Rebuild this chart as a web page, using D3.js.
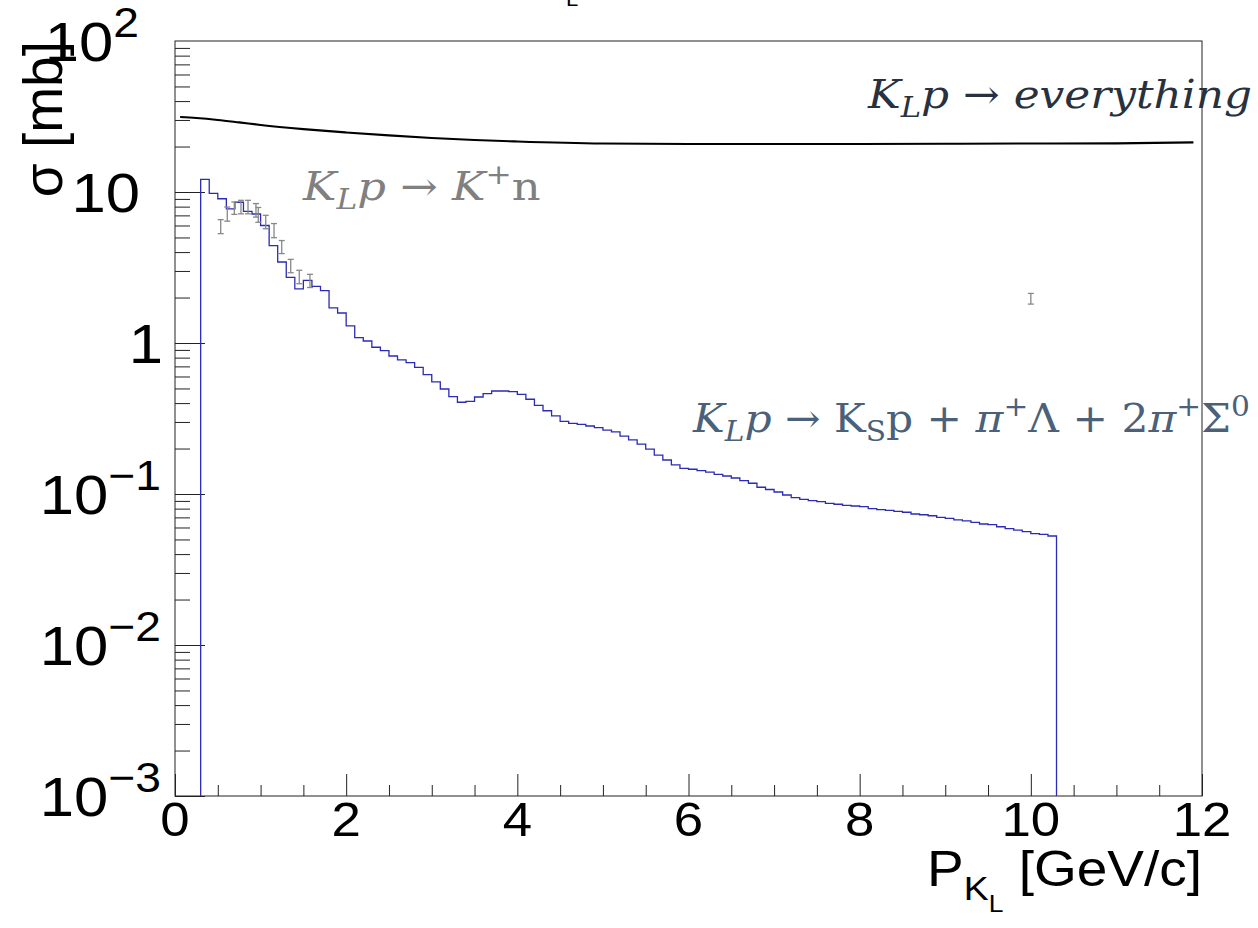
<!DOCTYPE html>
<html><head><meta charset="utf-8">
<script src="https://cdn.jsdelivr.net/npm/d3@7"></script>
<style>body{margin:0;background:#fff} svg{display:block}</style>
</head><body>
<svg id="c" width="1258" height="928"></svg>
<script>
// ---------- data ----------
const binStart = 0.3;
const binWidth = 0.1;
// K_L p -> K_S p + pi+ Lambda + 2pi+ Sigma0  (mb), 100 bins from 0.3 to 10.3 GeV/c
const ksValues = [
  12.14, 9.80, 9.02, 7.74, 8.55, 7.45, 7.15, 6.00, 4.41, 3.44,
  2.72, 2.28, 2.60, 2.37, 2.22, 1.71, 1.58, 1.30, 1.084, 1.031,
  0.937, 0.889, 0.820, 0.772, 0.741, 0.690, 0.617, 0.552, 0.496, 0.441,
  0.405, 0.411, 0.439, 0.462, 0.481, 0.481, 0.476, 0.457, 0.424, 0.386,
  0.356, 0.329, 0.303, 0.294, 0.289, 0.282, 0.275, 0.265, 0.258, 0.242,
  0.228, 0.214, 0.198, 0.181, 0.168, 0.156, 0.148, 0.1458, 0.1427, 0.1398,
  0.1350, 0.1316, 0.1276, 0.1225, 0.1178, 0.1108, 0.1071, 0.1031, 0.0985, 0.0945,
  0.0922, 0.0903, 0.0889, 0.0868, 0.0855, 0.0842, 0.0833, 0.0824, 0.0799, 0.0787,
  0.0780, 0.0768, 0.0757, 0.0737, 0.0729, 0.0718, 0.0701, 0.0690, 0.0673, 0.0663,
  0.0649, 0.0633, 0.0626, 0.0607, 0.0589, 0.0577, 0.0563, 0.0546, 0.0541, 0.0527
];
// K_L p -> K+ n measurements
const kpnX   = [0.534, 0.611, 0.693, 0.771, 0.853, 0.946, 0.973, 1.060, 1.157, 1.247, 1.352, 1.452, 1.577, 10.0];
const kpnY   = [5.93, 7.18, 7.85, 7.99, 7.99, 7.60, 7.10, 6.36, 5.58, 4.34, 3.25, 2.75, 2.59, 1.97];
const kpnErr = [0.63, 0.77, 0.74, 0.82, 0.82, 0.78, 0.80, 0.65, 0.60, 0.43, 0.33, 0.28, 0.26, 0.16];
// K_L p -> everything
const totX = [0.06, 0.25, 0.5, 0.75, 1.0, 1.5, 2.0, 2.5, 3.0, 3.5, 4.0, 5.0, 6.0, 7.0, 8.0, 9.0, 10.0, 11.0, 11.9];
const totY = [31.4, 30.9, 30.0, 28.9, 27.8, 26.1, 24.8, 23.7, 22.8, 22.1, 21.6, 20.95, 20.8, 20.8, 20.8, 20.85, 20.95, 21.0, 21.3];

const xTickValues = [0, 2, 4, 6, 8, 10, 12];
const yTickExps = [-3, -2, -1, 0, 1, 2];

// ---------- layout ----------
const svg = d3.select('#c');
const L = 175, R = 1202, T = 41, B = 796;
const SX = 1.1; // horizontal stretch of the text
const x = d3.scaleLinear().domain([0, 12]).range([L, R]);
const y = d3.scaleLog().domain([1e-3, 1e2]).range([B, T]).clamp(true);

function stext(xp, yp, anchor, sx) {
  return svg.append('text').attr('transform', `translate(${xp},${yp}) scale(${sx || SX},1)`)
    .attr('text-anchor', anchor || 'start');
}

// frame
svg.append('rect').attr('x', L).attr('y', T).attr('width', R - L).attr('height', B - T)
  .attr('fill', 'none').attr('stroke', '#222').attr('stroke-width', 1);

// ---------- axes ----------
const majorY = yTickExps.map(e => Math.pow(10, e));
const minorY = [];
yTickExps.slice(0, -1).forEach(e => { for (let k = 2; k <= 9; k++) minorY.push(k * Math.pow(10, e)); });

const yMaj = svg.append('g').attr('transform', `translate(${L},0)`)
  .call(d3.axisRight(y).tickValues(majorY.filter(v => v < 100)).tickSize(30).tickFormat(''));
const yMin = svg.append('g').attr('transform', `translate(${L},0)`)
  .call(d3.axisRight(y).tickValues(minorY).tickSize(15).tickFormat(''));
const xMinor = d3.range(0, 12.01, 0.5).filter(v => v % 2 !== 0);
const xMaj = svg.append('g').attr('transform', `translate(0,${B})`)
  .call(d3.axisTop(x).tickValues(xTickValues).tickSize(22).tickFormat(''));
const xMin = svg.append('g').attr('transform', `translate(0,${B})`)
  .call(d3.axisTop(x).tickValues(xMinor).tickSize(11).tickFormat(''));
[yMaj, yMin, xMaj, xMin].forEach(g => {
  g.select('.domain').remove();
  g.selectAll('line').attr('stroke', '#222').attr('stroke-width', 1);
});

// y tick labels
const fontSans = 'Liberation Sans, Arial, Helvetica, sans-serif';
const yLabelRight = {'-3': 161, '-2': 161, '-1': 161, '0': 163, '1': 140, '2': 139};
yTickExps.forEach(e => {
  const t = stext(yLabelRight[String(e)], y(Math.pow(10, e)) + 20, 'end')
    .attr('font-family', fontSans).attr('font-size', 56).attr('fill', '#000');
  if (e === 0) t.text('1');
  else if (e === 1) t.text('10');
  else {
    t.append('tspan').text('10');
    t.append('tspan').attr('dy', -24).attr('font-size', 42).text(e < 0 ? '\u2212' + (-e) : String(e));
  }
});
// x tick labels
xTickValues.forEach(v => {
  stext(x(v), 836, 'middle')
    .attr('font-family', fontSans).attr('font-size', 48).attr('fill', '#000').text(String(v));
});
// axis titles
const xt = stext(R, 886, 'end')
  .attr('font-family', fontSans).attr('font-size', 50).attr('fill', '#000');
xt.append('tspan').text('P');
xt.append('tspan').attr('dy', 14).attr('font-size', 34).text('K');
xt.append('tspan').attr('dy', 12).attr('font-size', 24).text('L');
xt.append('tspan').attr('dy', -26).attr('font-size', 50).text(' [GeV/c]');

svg.append('text').attr('transform', `translate(62,${T}) rotate(-90)`).attr('text-anchor', 'end')
  .attr('font-family', fontSans).attr('font-size', 55).attr('fill', '#000').text('\u03c3 [mb]');

// ---------- data marks ----------
const histPts = [[binStart, 1e-3]];
ksValues.forEach((v, i) => {
  const x0 = binStart + i * binWidth;
  histPts.push([x0, v], [x0 + binWidth, v]);
});
histPts.push([binStart + ksValues.length * binWidth, 1e-3]);
const line = d3.line().x(d => x(d[0])).y(d => y(d[1]));
svg.append('path').attr('d', line(histPts)).attr('fill', 'none')
  .attr('stroke', '#2b2bb5').attr('stroke-width', 1.3);

const totPts = totX.map((v, i) => [v, totY[i]]);
svg.append('path').attr('d', d3.line().x(d => x(d[0])).y(d => y(d[1])).curve(d3.curveMonotoneX)(totPts))
  .attr('fill', 'none').attr('stroke', '#000').attr('stroke-width', 2.1);

// error bars
const eb = svg.append('g').attr('stroke', '#888').attr('stroke-width', 1.3);
kpnX.forEach((v, i) => {
  const xc = x(v), y1 = y(kpnY[i] + kpnErr[i]), y0 = y(kpnY[i] - kpnErr[i]);
  eb.append('line').attr('x1', xc).attr('x2', xc).attr('y1', y1).attr('y2', y0);
  eb.append('line').attr('x1', xc - 3).attr('x2', xc + 3).attr('y1', y1).attr('y2', y1);
  eb.append('line').attr('x1', xc - 3).attr('x2', xc + 3).attr('y1', y0).attr('y2', y0);
});

// ---------- annotations ----------
const serif = 'DejaVu Serif, serif';
function mathText(xp, yp, color, sx, parts) {
  const t = stext(xp, yp, 'start', sx).attr('font-family', serif).attr('font-size', 40).attr('fill', color);
  parts.forEach(p => {
    const s = t.append('tspan').text(p.t);
    if (p.i) s.attr('font-style', 'italic');
    if (p.dy) s.attr('dy', p.dy);
    if (p.fs) s.attr('font-size', p.fs);
  });
  return t;
}
mathText(868, 108, '#28323e', 1.095, [
  {t: 'K', i: 1}, {t: 'L', i: 1, dy: 9, fs: 28}, {t: 'p', i: 1, dy: -9}, {t: ' \u2192 '}, {t: 'everything', i: 1}
]);
mathText(303, 200, '#808080', 1.12, [
  {t: 'K', i: 1}, {t: 'L', i: 1, dy: 9, fs: 28}, {t: 'p', i: 1, dy: -9}, {t: ' \u2192 '}, {t: 'K', i: 1},
  {t: '+', dy: -16, fs: 28}, {t: 'n', dy: 16}
]);
mathText(693, 432, '#4a6179', 1.06, [
  {t: 'K', i: 1}, {t: 'L', i: 1, dy: 9, fs: 28}, {t: 'p', i: 1, dy: -9}, {t: ' \u2192 K'},
  {t: 'S', dy: 9, fs: 28}, {t: 'p + ', dy: -9}, {t: '\u03c0', i: 1}, {t: '+', dy: -16, fs: 28},
  {t: '\u039b + 2', dy: 16}, {t: '\u03c0', i: 1}, {t: '+', dy: -16, fs: 28}, {t: '\u03a3', dy: 16},
  {t: '0', dy: -16, fs: 28}
]);

// clipped chart title (only its lower edge is visible at the top of the picture)
stext(566, -6, 'start').attr('font-family', fontSans).attr('font-size', 30).attr('fill', '#000')
  .append('tspan').attr('dy', 12).attr('font-size', 20).text('L');
</script>
</body></html>
